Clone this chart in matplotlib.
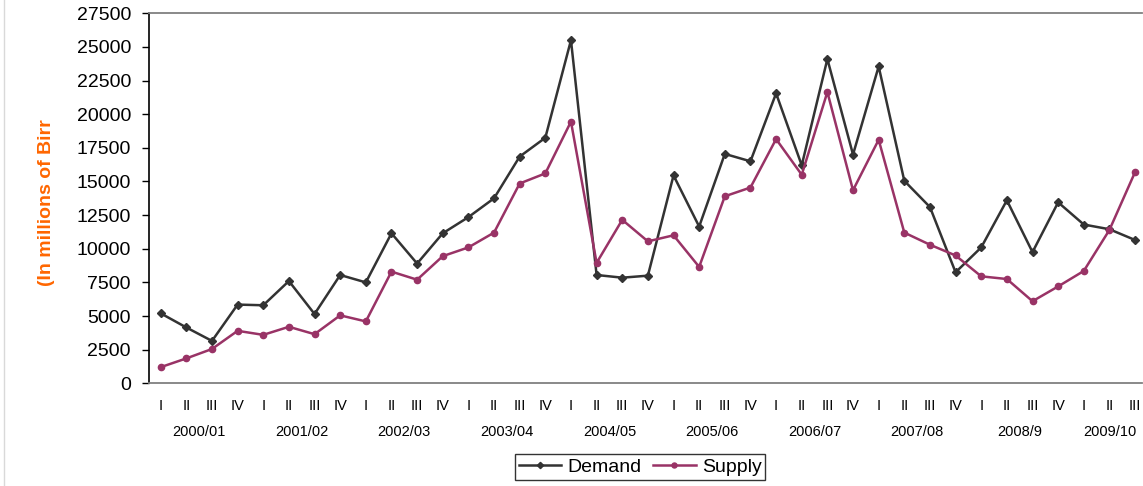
import matplotlib
matplotlib.use("Agg")
import matplotlib.pyplot as plt
from matplotlib.lines import Line2D
import matplotlib.transforms as mtransforms

plt.rcParams['font.family'] = ['Liberation Sans', 'DejaVu Sans']

quarters = ["I", "II", "III", "IV"] * 9 + ["I", "II", "III"]
years = ["2000/01", "2001/02", "2002/03", "2003/04", "2004/05",
         "2005/06", "2006/07", "2007/08", "2008/9", "2009/10"]

demand = [5200, 4150, 3150, 5850, 5800, 7600, 5150, 8050, 7500, 11150,
          8900, 11150, 12350, 13750, 16850, 18250, 25500, 8050, 7850, 8000,
          15450, 11650, 17050, 16500, 21550, 16200, 24100, 17000, 23550, 15050,
          13100, 8250, 10100, 13600, 9750, 13450, 11800, 11450, 10650]
supply = [1200, 1850, 2550, 3900, 3600, 4200, 3650, 5050, 4600, 8300,
          7700, 9450, 10100, 11200, 14850, 15600, 19450, 8950, 12150, 10550,
          11000, 8650, 13900, 14550, 18150, 15500, 21650, 14350, 18100, 11200,
          10300, 9500, 7950, 7750, 6100, 7200, 8350, 11400, 15700]

W, H = 1143, 486
fig = plt.figure(figsize=(W / 100, H / 100), dpi=100)
ax = fig.add_axes([149 / W, (H - 383.3) / H, (1142 - 149) / W, 370 / H])

x = list(range(len(demand)))
ax.plot(x, demand, color='#333333', lw=1.8, marker='D', ms=4, label='Demand')
ax.plot(x, supply, color='#993366', lw=1.8, marker='o', ms=4.5, label='Supply')

ax.set_xlim(-0.456, 38.27)
ax.set_ylim(0, 27500)
ax.set_yticks(range(0, 27501, 2500))
ax.tick_params(axis='y', direction='out', length=5, width=1, labelsize=14, pad=8, color='black')
ax.set_xticks(x)
ax.set_xticklabels(quarters)
ax.tick_params(axis='x', length=0, labelsize=10.5, pad=11)

for s in ['top', 'bottom']:
    ax.spines[s].set_color('#808080')
    ax.spines[s].set_linewidth(1.3)
ax.spines['right'].set_visible(False)
ax.spines['left'].set_color('black')
ax.spines['left'].set_linewidth(1.2)

trans = mtransforms.blended_transform_factory(ax.transData, ax.transAxes)
for i, yr in enumerate(years):
    start = 4 * i
    n = min(4, len(demand) - start)
    center = start + (n - 1) / 2
    ax.text(center, -0.132, yr, transform=trans, ha='center', va='center', fontsize=10.5)

fig.text(47 / W, 1 - 203 / H, "(In millions of Birr", rotation=90, ha='center', va='center',
         fontsize=14, fontweight='bold', color='#FF6600')

leg = fig.legend(loc='center', bbox_to_anchor=(640 / W, 1 - 467 / H), ncol=2, fontsize=14,
                 frameon=True, fancybox=False, edgecolor='black', handlelength=2.2,
                 handletextpad=0.3, columnspacing=0.6, borderpad=0.2, markerscale=0.8)
leg.get_frame().set_linewidth(1.0)

fig.add_artist(Line2D([4 / W, 4 / W], [0, 1], transform=fig.transFigure, color='#d9d9d9', lw=1))

fig.savefig("out.png", dpi=100)
